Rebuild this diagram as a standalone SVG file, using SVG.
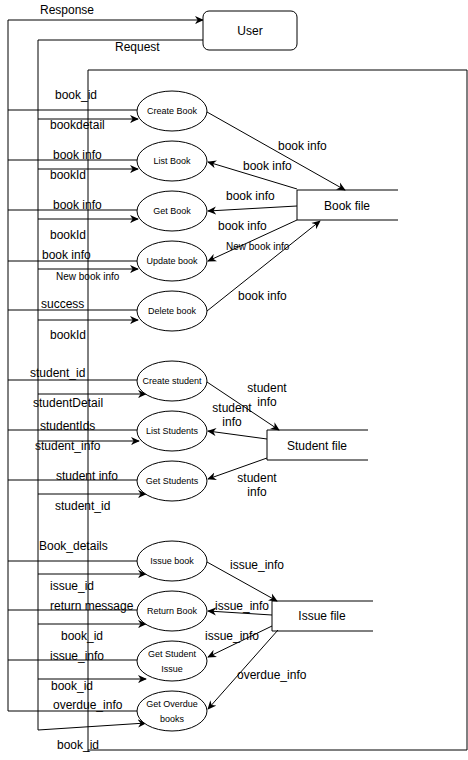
<svg xmlns="http://www.w3.org/2000/svg" width="468" height="760" viewBox="0 0 468 760">
<defs>
<marker id="arr" viewBox="0 0 10 10" refX="9" refY="5" markerWidth="9" markerHeight="9" markerUnits="userSpaceOnUse" orient="auto">
<path d="M0,0.5 L10,5 L0,9.5 L3,5 z" fill="#000"/>
</marker>
<style>
.ln{fill:none;stroke:#000;stroke-width:1}
.ar{fill:none;stroke:#000;stroke-width:1;marker-end:url(#arr)}
.el{fill:#fff;stroke:#000;stroke-width:1}
.st{fill:none;stroke:#000;stroke-width:1}
text{font-family:"Liberation Sans",Arial,sans-serif;fill:#000}
.lb{font-size:12px}
.sm{font-size:10px}
.pl{font-size:9px;text-anchor:middle}
.nm{font-size:12px;text-anchor:middle}
.cl{font-size:12px;text-anchor:middle}
</style>
</defs>
<rect width="468" height="760" fill="#fff"/>
<g id="connectors">
<!-- boundary -->
<polyline class="ln" points="88,752 88,70 467,70 467,750 88,750"/>
<!-- response bus -->
<polyline class="ar" points="8,711 8,20 203,20"/>
<!-- request bus -->
<polyline class="ln" points="203,40 38,40 38,730"/>
<!-- outputs to response bus -->
<line class="ln" x1="8" y1="110" x2="138" y2="110"/>
<line class="ln" x1="8" y1="160" x2="138" y2="160"/>
<line class="ln" x1="8" y1="210" x2="138" y2="210"/>
<line class="ln" x1="8" y1="261" x2="138" y2="261"/>
<line class="ln" x1="8" y1="310" x2="138" y2="310"/>
<line class="ln" x1="8" y1="380" x2="138" y2="380"/>
<line class="ln" x1="8" y1="430" x2="138" y2="430"/>
<line class="ln" x1="8" y1="480" x2="138" y2="480"/>
<line class="ln" x1="8" y1="561" x2="138" y2="561"/>
<line class="ln" x1="8" y1="610" x2="138" y2="610"/>
<line class="ln" x1="8" y1="660" x2="138" y2="660"/>
<line class="ln" x1="8" y1="711" x2="138" y2="711"/>
<!-- inputs from request bus -->
<line class="ar" x1="38" y1="119" x2="138" y2="119"/>
<line class="ar" x1="38" y1="169" x2="138" y2="169"/>
<line class="ar" x1="38" y1="219" x2="138" y2="219"/>
<line class="ar" x1="38" y1="269" x2="138" y2="269"/>
<line class="ar" x1="38" y1="320" x2="138" y2="320"/>
<line class="ar" x1="38" y1="394" x2="146" y2="394"/>
<line class="ar" x1="38" y1="441" x2="139" y2="441"/>
<line class="ar" x1="38" y1="494" x2="146" y2="494"/>
<line class="ar" x1="38" y1="574" x2="146" y2="574"/>
<line class="ar" x1="38" y1="624" x2="146" y2="624"/>
<line class="ar" x1="38" y1="679" x2="146" y2="679"/>
<line class="ar" x1="38" y1="730" x2="146" y2="723"/>
<!-- book file flows -->
<line class="ar" x1="207" y1="112" x2="345" y2="190"/>
<line class="ar" x1="297" y1="189" x2="208" y2="162"/>
<line class="ar" x1="297" y1="206" x2="208" y2="211"/>
<line class="ar" x1="297" y1="220" x2="208" y2="261"/>
<line class="ar" x1="207" y1="311" x2="320" y2="221"/>
<!-- student file flows -->
<line class="ar" x1="207" y1="382" x2="279" y2="430"/>
<line class="ar" x1="267" y1="439" x2="208" y2="431"/>
<line class="ar" x1="267" y1="458" x2="208" y2="479"/>
<!-- issue file flows -->
<line class="ar" x1="207" y1="562" x2="277" y2="601"/>
<line class="ar" x1="272" y1="615" x2="208" y2="611"/>
<line class="ar" x1="272" y1="626" x2="208" y2="657"/>
<line class="ar" x1="278" y1="630" x2="208" y2="709"/>
</g>
<g id="user">
<rect x="203" y="11" width="94" height="39" rx="6" fill="#fff" stroke="#000"/>
<text class="nm" x="250" y="35">User</text>
</g>
<g id="create-book"><ellipse class="el" cx="172" cy="111" rx="35" ry="20"/><text class="pl" x="172" y="114">Create Book</text></g>
<g id="list-book"><ellipse class="el" cx="172" cy="161" rx="35" ry="20"/><text class="pl" x="172" y="164">List Book</text></g>
<g id="get-book"><ellipse class="el" cx="172" cy="211" rx="35" ry="20"/><text class="pl" x="172" y="214">Get Book</text></g>
<g id="update-book"><ellipse class="el" cx="172" cy="261" rx="35" ry="20"/><text class="pl" x="172" y="264">Update book</text></g>
<g id="delete-book"><ellipse class="el" cx="172" cy="311" rx="35" ry="20"/><text class="pl" x="172" y="314">Delete book</text></g>
<g id="create-student"><ellipse class="el" cx="172" cy="381" rx="35" ry="20"/><text class="pl" x="172" y="384">Create student</text></g>
<g id="list-students"><ellipse class="el" cx="172" cy="431" rx="35" ry="20"/><text class="pl" x="172" y="434">List Students</text></g>
<g id="get-students"><ellipse class="el" cx="172" cy="481" rx="35" ry="20"/><text class="pl" x="172" y="484">Get Students</text></g>
<g id="issue-book"><ellipse class="el" cx="172" cy="561" rx="35" ry="20"/><text class="pl" x="172" y="564">Issue book</text></g>
<g id="return-book"><ellipse class="el" cx="172" cy="611" rx="35" ry="20"/><text class="pl" x="172" y="614">Return Book</text></g>
<g id="get-student-issue"><ellipse class="el" cx="172" cy="661" rx="35" ry="20"/><text class="pl" x="172" y="657">Get Student</text><text class="pl" x="172" y="672">Issue</text></g>
<g id="get-overdue-books"><ellipse class="el" cx="172" cy="711" rx="35" ry="20"/><text class="pl" x="172" y="707">Get Overdue</text><text class="pl" x="172" y="722">books</text></g>
<g id="book-file">
<polyline class="st" points="398,190 297,190 297,220 398,220"/>
<text class="nm" x="347" y="210">Book file</text>
</g>
<g id="student-file">
<polyline class="st" points="368,430 267,430 267,460 368,460"/>
<text class="nm" x="317" y="450">Student file</text>
</g>
<g id="issue-file">
<polyline class="st" points="373,601 272,601 272,631 373,631"/>
<text class="nm" x="322" y="620">Issue file</text>
</g>
<g id="labels">
<text class="lb" x="40" y="14">Response</text>
<text class="lb" x="115" y="51">Request</text>
<text class="lb" x="55" y="99">book_id</text>
<text class="lb" x="50" y="129">bookdetail</text>
<text class="lb" x="53" y="159">book info</text>
<text class="lb" x="50" y="179">bookId</text>
<text class="lb" x="53" y="209">book info</text>
<text class="lb" x="50" y="239">bookId</text>
<text class="lb" x="42" y="259">book info</text>
<text class="sm" x="56" y="280">New book info</text>
<text class="lb" x="41" y="308">success</text>
<text class="lb" x="50" y="339">bookId</text>
<text class="lb" x="30" y="377">student_id</text>
<text class="lb" x="33" y="407">studentDetail</text>
<text class="lb" x="40" y="430">studentIds</text>
<text class="lb" x="35" y="450">student_info</text>
<text class="lb" x="56" y="480">student info</text>
<text class="lb" x="55" y="510">student_id</text>
<text class="lb" x="39" y="550">Book_details</text>
<text class="lb" x="50" y="590">issue_id</text>
<text class="lb" x="50" y="610">return message</text>
<text class="lb" x="61" y="640">book_id</text>
<text class="lb" x="50" y="660">issue_info</text>
<text class="lb" x="51" y="690">book_id</text>
<text class="lb" x="53" y="709">overdue_info</text>
<text class="lb" x="57" y="749">book_id</text>
<text class="lb" x="278" y="150">book info</text>
<text class="lb" x="243" y="170">book info</text>
<text class="lb" x="226" y="200">book info</text>
<text class="lb" x="218" y="230">book info</text>
<text class="sm" x="226" y="250">New book info</text>
<text class="lb" x="238" y="300">book info</text>
<text class="cl" x="267" y="392">student</text>
<text class="cl" x="267" y="406">info</text>
<text class="cl" x="232" y="412">student</text>
<text class="cl" x="232" y="426">info</text>
<text class="cl" x="257" y="482">student</text>
<text class="cl" x="257" y="496">info</text>
<text class="lb" x="230" y="569">issue_info</text>
<text class="lb" x="215" y="610">issue_info</text>
<text class="lb" x="205" y="640">issue_info</text>
<text class="lb" x="237" y="679">overdue_info</text>
</g>
</svg>
